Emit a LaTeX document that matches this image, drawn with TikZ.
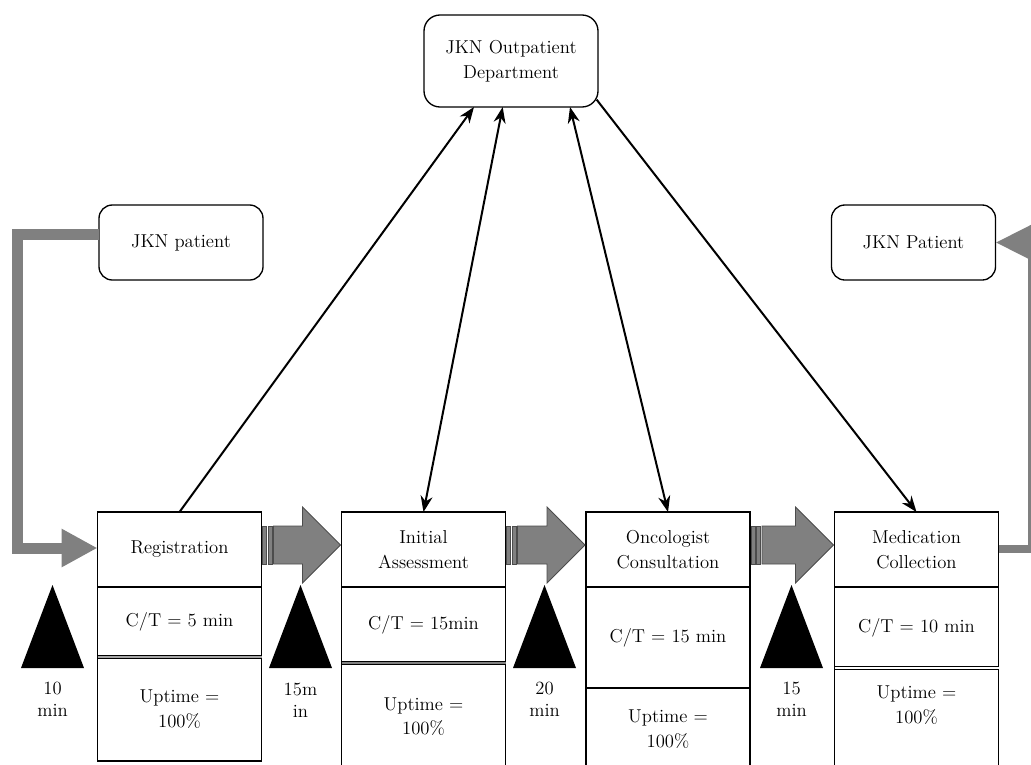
\documentclass[tikz,border=0pt]{standalone}
\usetikzlibrary{arrows.meta,positioning,calc}

\tikzset{
  box/.style={draw, line width=1pt, fill=white, outer sep=0pt, inner sep=2pt,
    align=center, font=\fontsize{14}{18.5}\selectfont},
  proc/.style={box, minimum width=123pt, minimum height=56.25pt},
  note/.style={box, rounded corners=10pt, minimum width=123pt, minimum height=56.25pt},
  sep/.style={double=gray!70, double distance=1.2pt, line width=0.6pt},
  push/.style={fill=gray, draw=gray!60!black, line width=0.6pt},
  flow/.style={draw=gray, line width=8.25pt, -{Triangle[length=27pt,width=27pt]}},
  link/.style={line width=1.5pt, ->},
  invlabel/.style={align=center, inner sep=0pt, font=\fontsize{14}{16.5}\selectfont},
  >={Stealth[length=12pt,width=9pt]}
}

% push arrow with two stripes between two process boxes
\newcommand{\pusharrow}[2]{%
  \coordinate (s) at ($(#1.east)+(1,-4.5)$);
  \coordinate (t) at ($(#2.west)+(-1,-4.5)$);
  \filldraw[push] ($(s)+(0,-19)$) rectangle ($(s)+(4,19)$);
  \filldraw[push] ($(s)+(5.5,-19)$) rectangle ($(s)+(9.5,19)$);
  \filldraw[push] ($(s)+(11,-19)$) -- ($(t)+(-38,-19)$) -- ($(t)+(-38,-38)$) -- (t)
    -- ($(t)+(-38,38)$) -- ($(t)+(-38,19)$) -- ($(s)+(11,19)$) -- cycle;
}

\begin{document}
\begin{tikzpicture}[x=0.75pt, y=-0.75pt]
  \useasboundingbox (0,0) rectangle (1031,764);
  \clip (0,0) rectangle (1031,764);

  % customers and outpatient department
  \node[note, rounded corners=12pt, minimum width=130.5pt, minimum height=69pt] (opd) at (511,61) {JKN Outpatient\\Department};
  \node[note] (pin) at (181,242.5) {JKN patient};
  \node[note] (pout) at (913.5,242.5) {JKN Patient};

  % process boxes
  \node[proc] (reg) at (179.5,549.5) {Registration};
  \node[proc, below=0pt of reg, minimum height=52.5pt] (regct) {C/T = 5 min};
  \node[proc, below=0pt of regct, minimum height=78pt] (regup) {Uptime =\\100\%};

  \node[proc] (ia) at (423.5,549.5) {Initial\\Assessment};
  \node[proc, below=0pt of ia, minimum height=57pt] (iact) {C/T = 15min};
  \node[proc, below=0pt of iact, minimum height=80.25pt] (iaup) {Uptime =\\100\%};

  \node[proc] (oc) at (668,549.5) {Oncologist\\Consultation};
  \node[proc, below=0pt of oc, minimum height=75.75pt] (occt) {C/T = 15 min};
  \node[proc, below=0pt of occt, minimum height=61.5pt] (ocup) {Uptime =\\100\%};

  \node[proc] (med) at (916.5,549.5) {Medication\\Collection};
  \node[proc, below=0pt of med, minimum height=60.75pt] (medct) {C/T = 10 min};
  \node[proc, below=0pt of medct, minimum height=76.5pt, text depth=22pt] (medup) {Uptime =\\100\%};

  \draw[sep] (regct.south west) -- (regct.south east);
  \draw[sep, double=gray] (iact.south west) -- (iact.south east);
  \draw[sep, double=white] (medct.south west) -- (medct.south east);

  % material flow in and out
  \coordinate (c1) at (17.5,234);
  \coordinate (c2) at (17.5,548);
  \coordinate (c3) at (1032,549);
  \coordinate (c4) at (1032,242.5);
  \draw[flow] (pin.west |- c1) -- (c1) -- (c2) -- (reg.west |- c2);
  \draw[flow, line width=6pt, -{Triangle[length=27pt,width=25pt]}] (med.east |- c3) -- (c3) -- (c4) -- (pout.east);

  % push arrows
  \pusharrow{reg}{ia}
  \pusharrow{ia}{oc}
  \pusharrow{oc}{med}

  % inventory
  \foreach \x in {52.5,300.5,544.5,791.5}
    \fill (\x,585) -- (\x+31.5,668) -- (\x-31.5,668) -- cycle;
  \node[invlabel] (inv1) at (52.5,699) {10\\min};
  \node[invlabel] (inv2) at (300.5,700) {15m\\in};
  \node[invlabel] (inv3) at (544.5,699) {20\\min};
  \node[invlabel] (inv4) at (791.5,699) {15\\min};

  % information flow
  \draw[link] (reg.north) -- ([xshift=37.5pt]opd.south west);
  \draw[link, <->] ([xshift=59pt]opd.south west) -- (ia.north);
  \draw[link, <->] ([xshift=-21pt]opd.south east) -- (oc.north);
  \draw[link] ([xshift=-1pt,yshift=5.5pt]opd.south east) -- (med.north);
\end{tikzpicture}
\end{document}
